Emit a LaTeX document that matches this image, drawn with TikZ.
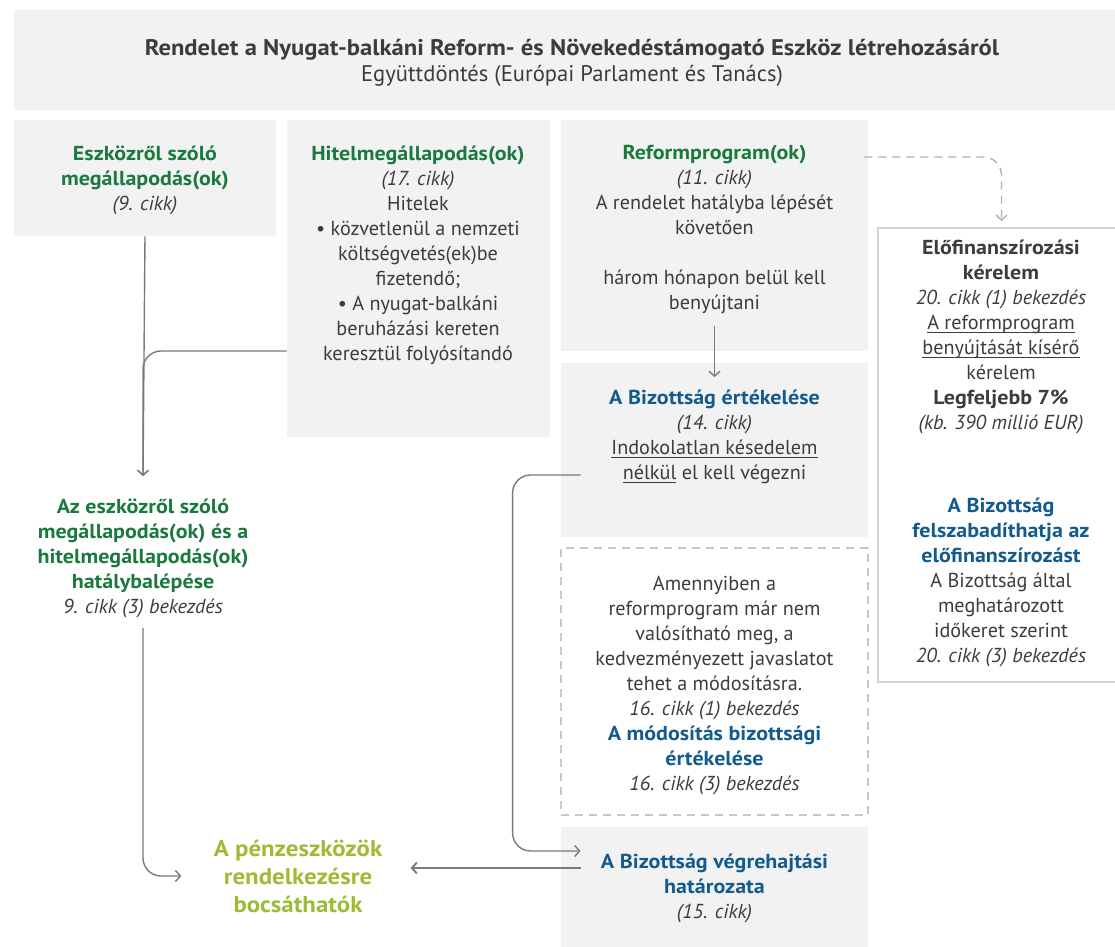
\documentclass[tikz,border=0pt]{standalone}
\usepackage{fontspec}
\setmainfont{PT Sans}[BoldFeatures={FakeStretch=1.09}]
\usetikzlibrary{fit,arrows.meta}

\definecolor{panelgray}{HTML}{F2F2F2}
\definecolor{textgray}{HTML}{3C3C3C}
\definecolor{eugreen}{HTML}{1A7A3E}
\definecolor{eublue}{HTML}{135B8E}
\definecolor{penzgreen}{HTML}{9EBB35}
\definecolor{linegray}{HTML}{7A7A7A}
\definecolor{dashgray}{HTML}{C8C8C8}
\definecolor{framegray}{HTML}{D2D2D2}

\newcommand\torzs{\fontsize{10.1}{12.5}\selectfont}
\newcommand\zold[1]{\textcolor{eugreen}{\textbf{#1}}}
\newcommand\kek[1]{\textcolor{eublue}{\textbf{#1}}}
\newsavebox\alahuzbox
\newcommand\alahuz[1]{\sbox\alahuzbox{#1}\rlap{\rule[-2.2pt]{\wd\alahuzbox}{0.5pt}}\usebox\alahuzbox}

\begin{document}
\begin{tikzpicture}[x=0.5pt,y=-0.5pt]
\tikzset{doboz/.style={fill=panelgray, inner sep=0pt},
  szoveg/.style={align=center, text=textgray, font=\torzs, inner sep=0pt},
  nyil/.style={draw=linegray, line width=0.7pt, -{Straight Barb[length=2.5pt,width=5.5pt]}}}
\useasboundingbox (0,0) rectangle (1115,947);
\clip (0,0) rectangle (1115,947);
\node[doboz, fit={(14,10) (1131,110)}] (cim) {};
\node[doboz, fit={(14,120) (276,236)}] (eszkoz) {};
\node[doboz, fit={(287,120) (550,437)}] (hitel) {};
\node[doboz, fit={(561,120) (868,351)}] (reform) {};
\node[doboz, fit={(561,363) (868,537)}] (ertek) {};
\node[draw=dashgray, line width=0.6pt, dash pattern=on 4pt off 3pt, inner sep=0pt, fit={(561,548) (868,815)}] (modosit) {};
\node[doboz, fit={(561,827) (868,960)}] (vegreh) {};
\node[draw=framegray, line width=1pt, fill=white, inner sep=0pt, fit={(878,228) (1125,682)}] (elofin) {};
\node[szoveg, font=\fontsize{11.3}{13}\selectfont] (cimt) at (572,63) {\textbf{Rendelet a Nyugat-balkáni Reform- és Növekedéstámogató Eszköz létrehozásáról}\\Együttdöntés (Európai Parlament és Tanács)};
\node[szoveg] (eszkozt) at (145,180) {\zold{Eszközről szóló}\\\zold{megállapodás(ok)}\\\textit{(9. cikk)}};
\node[szoveg] (hitelt) at (418,255) {\zold{Hitelmegállapodás(ok)}\\\textit{(17. cikk)}\\Hitelek\\• közvetlenül a nemzeti\\költségvetés(ek)be\\fizetendő;\\• A nyugat-balkáni\\beruházási kereten\\keresztül folyósítandó};
\node[szoveg] (reformt) at (714.5,229) {\zold{Reformprogram(ok)}\\\textit{(11. cikk)}\\A rendelet hatályba lépését\\követően\\[12.5pt]három hónapon belül kell\\benyújtani};
\node[szoveg] (ertekt) at (714.5,436.5) {\kek{A Bizottság értékelése}\\\textit{(14. cikk)}\\\alahuz{Indokolatlan késedelem}\\\alahuz{nélkül} el kell végezni};
\node[szoveg] (modositt) at (714.5,685.5) {Amennyiben a\\reformprogram már nem\\valósítható meg, a\\kedvezményezett javaslatot\\tehet a módosításra.\\\textit{16. cikk (1) bekezdés}\\\kek{A módosítás bizottsági}\\\kek{értékelése}\\\textit{16. cikk (3) bekezdés}};
\node[szoveg] (vegreht) at (714.5,888) {\kek{A Bizottság végrehajtási}\\\kek{határozata}\\\textit{(15. cikk)}};
\node[szoveg] (elofint) at (1001,336.5) {\textbf{Előfinanszírozási}\\\textbf{kérelem}\\\textit{20. cikk (1) bekezdés}\\\alahuz{A reformprogram}\\\alahuz{benyújtását kísérő}\\kérelem\\\textbf{Legfeljebb 7\%}\\\textit{(kb. 390 millió EUR)}};
\node[szoveg] (felszabt) at (1001,582.5) {\kek{A Bizottság}\\\kek{felszabadíthatja az}\\\kek{előfinanszírozást}\\A Bizottság által\\meghatározott\\időkeret szerint\\\textit{20. cikk (3) bekezdés}};
\node[szoveg] (hatalyt) at (143,558) {\zold{Az eszközről szóló}\\\zold{megállapodás(ok) és a}\\\zold{hitelmegállapodás(ok)}\\\zold{hatálybalépése}\\\textit{9. cikk (3) bekezdés}};
\node[szoveg, text=penzgreen, font=\fontsize{11.4}{14}\selectfont\bfseries] (penzt) at (298,876) {A pénzeszközök\\rendelkezésre\\bocsáthatók};
\draw[nyil] (eszkoz.south) -- ([yshift=11pt]hatalyt.north);
\draw[nyil, rounded corners=9pt] ([yshift=-36.25pt]hitel.west) -| ([yshift=11pt]hatalyt.north);
\draw[nyil, rounded corners=9pt] ([yshift=-5pt]hatalyt.south) |- ([xshift=-16pt]penzt.west);
\draw[nyil] ([yshift=-6pt]reformt.south) -- ([yshift=6pt]ertekt.north);
\draw[nyil, draw=linegray!60, dash pattern=on 4pt off 3pt, rounded corners=9pt] ([xshift=-2pt,yshift=39.25pt]reform.east) -| ([yshift=3pt]elofin.north);
\draw[nyil, rounded corners=9pt] ([xshift=10pt,yshift=-12.5pt]ertek.west) -- ++(-34pt,0) |- ([xshift=10pt,yshift=21.25pt]vegreh.west);
\draw[nyil, line width=0.95pt] ([xshift=10pt,yshift=12.75pt]vegreh.west) -- ([xshift=14pt,yshift=12.75pt]vegreh.west -| penzt.east);
\end{tikzpicture}
\end{document}
